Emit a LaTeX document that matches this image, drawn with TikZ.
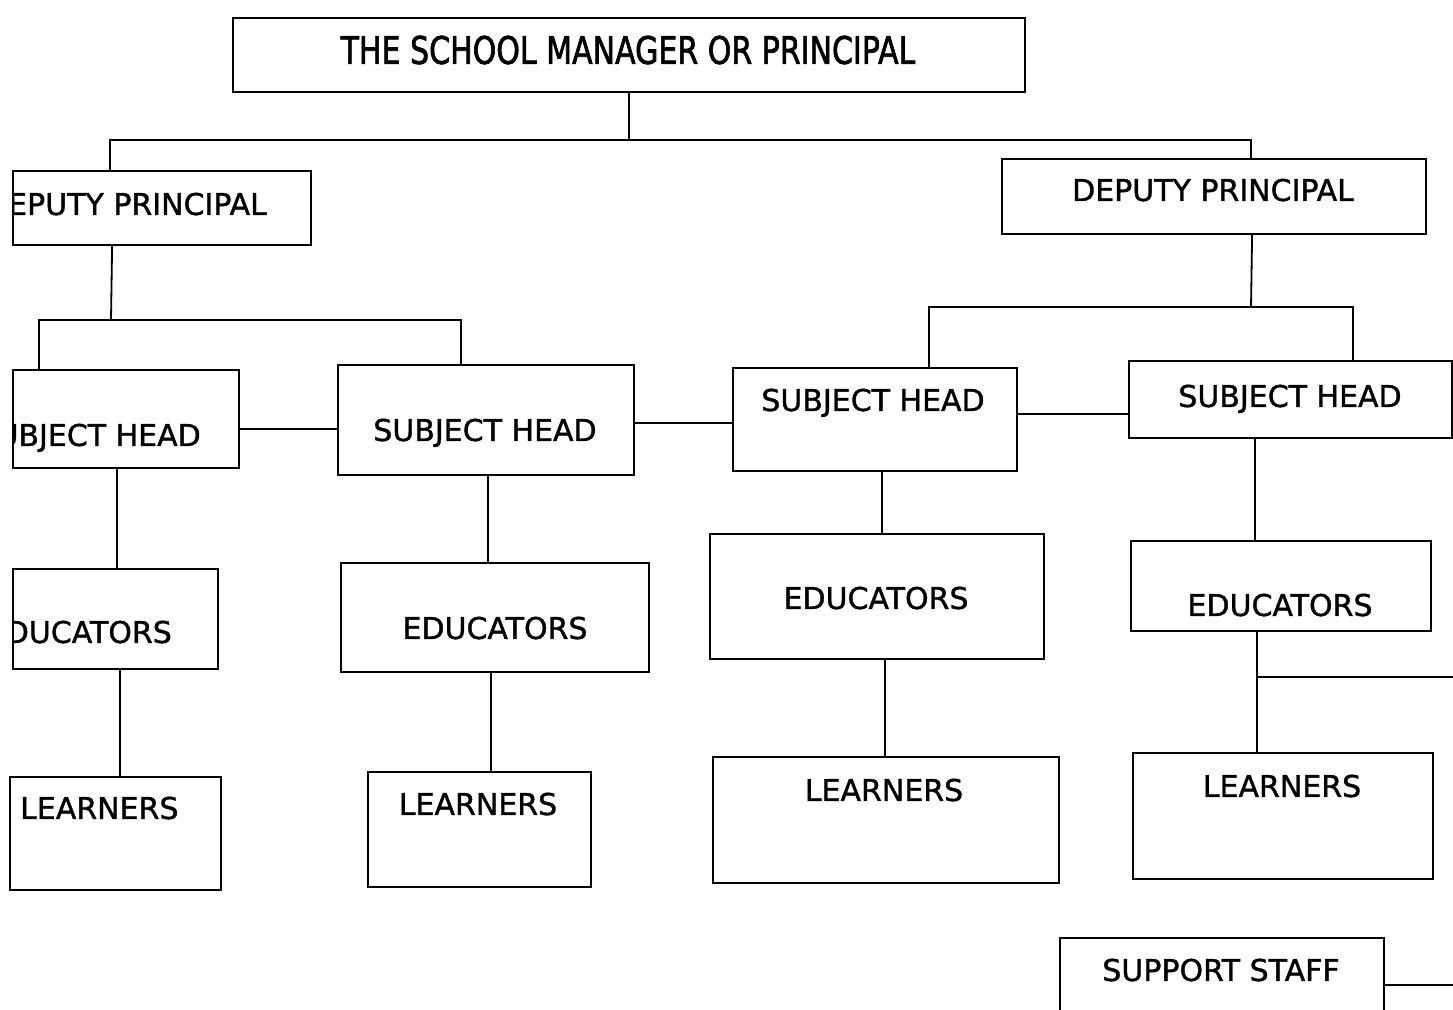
\documentclass[tikz,border=0pt]{standalone}
\usepackage{graphicx}
\usepackage{fontspec}
\setmainfont{DejaVu Sans}
\newfontfamily\chartfont{DejaVu Sans}[FakeBold=1.2]
\newfontfamily\titlefont{DejaVu Sans}[FakeBold=2]
\usetikzlibrary{calc}
\begin{document}
\begin{tikzpicture}[x=1pt,y=-1pt,
  box/.style={draw=black, line width=2.2pt, rectangle, inner sep=0pt, anchor=north west},
  lbl/.style={inner sep=0pt, font=\chartfont\fontsize{30}{36}\selectfont, text height=21.9pt, text depth=0pt},
  link/.style={draw=black, line width=1.8pt}]
\useasboundingbox (0,0) rectangle (1453,1009);
\clip (0,0) rectangle (1453,1009);
\fill[white] (0,0) rectangle (1453,1009);

% ---- boxes (top-left corner, width, height) ----
\node[box, minimum width=792pt, minimum height=74pt]  (pr)  at (232,17)  {};
\node[box, minimum width=298pt, minimum height=74pt]  (dp1) at (12,170)  {};
\node[box, minimum width=424pt, minimum height=75pt]  (dp2) at (1001,158) {};
\node[box, minimum width=226pt, minimum height=98pt]  (sh1) at (12,369)  {};
\node[box, minimum width=296pt, minimum height=110pt] (sh2) at (337,364) {};
\node[box, minimum width=284pt, minimum height=103pt] (sh3) at (732,367) {};
\node[box, minimum width=323pt, minimum height=77pt]  (sh4) at (1128,360) {};
\node[box, minimum width=205pt, minimum height=100pt] (ed1) at (12,568)  {};
\node[box, minimum width=308pt, minimum height=109pt] (ed2) at (340,562) {};
\node[box, minimum width=334pt, minimum height=125pt] (ed3) at (709,533) {};
\node[box, minimum width=300pt, minimum height=90pt]  (ed4) at (1130,540) {};
\node[box, minimum width=211pt, minimum height=113pt] (ln1) at (9,776)   {};
\node[box, minimum width=223pt, minimum height=115pt] (ln2) at (367,771) {};
\node[box, minimum width=346pt, minimum height=126pt] (ln3) at (712,756) {};
\node[box, minimum width=300pt, minimum height=126pt] (ln4) at (1132,752) {};
\node[box, minimum width=324pt, minimum height=103pt] (ss)  at (1059,937) {};

% ---- labels ----
\begin{scope}
\clip (13,0) rectangle (1453,1009);
\node[lbl, font=\titlefont\fontsize{38}{44}\selectfont, text height=27.7pt] (prt) at (628,50)
  {\scalebox{0.79}[1]{THE SCHOOL MANAGER OR PRINCIPAL}};
\node[lbl, anchor=east] (dp1t) at (267,204) {DEPUTY PRINCIPAL};
\node[lbl] (dp2t) at (1213,190) {DEPUTY PRINCIPAL};
\node[lbl, anchor=east] (sh1t) at (201,435) {SUBJECT HEAD};
\node[lbl] (sh2t) at (485,430) {SUBJECT HEAD};
\node[lbl] (sh3t) at (873,400) {SUBJECT HEAD};
\node[lbl] (sh4t) at (1290,396) {SUBJECT HEAD};
\node[lbl, anchor=east] (ed1t) at (172,632) {EDUCATORS};
\node[lbl] (ed2t) at (495,628) {EDUCATORS};
\node[lbl] (ed3t) at (876,598) {EDUCATORS};
\node[lbl] (ed4t) at (1280,605) {EDUCATORS};
\node[lbl, anchor=west] (ln1t) at (20,808) {LEARNERS};
\node[lbl] (ln2t) at (478,804) {LEARNERS};
\node[lbl] (ln3t) at (884,790) {LEARNERS};
\node[lbl] (ln4t) at (1282,786) {LEARNERS};
\node[lbl] (sst) at (1221,970) {SUPPORT STAFF};
\end{scope}

% ---- connectors ----
\coordinate (bus1) at (629,140);
\coordinate (bus2) at (111,320);
\coordinate (bus3) at (1251,307);
\coordinate (offr) at (1460,677);
\coordinate (offss) at (1460,985);

\draw[link] (pr.south) -- (bus1);
\draw[link] ([xshift=-52pt]dp1.north) |- (bus1);
\draw[link] ([xshift=37pt]dp2.north) |- (bus1);

\draw[link] ([xshift=-50pt]dp1.south) -- (bus2);
\draw[link] ([xshift=-87pt]sh1.north) |- (bus2);
\draw[link] ([xshift=-25pt]sh2.north) |- (bus2);

\draw[link] ([xshift=38pt]dp2.south) -- (bus3);
\draw[link] ([xshift=54pt]sh3.north) |- (bus3);
\draw[link] ([xshift=62.5pt]sh4.north) |- (bus3);

\draw[link] ([yshift=-10pt]sh1.east) -- ([yshift=-10pt]sh1.east -| sh2.west);
\draw[link] ([yshift=-3pt]sh2.east) -- ([yshift=-3pt]sh2.east -| sh3.west);
\draw[link] ([yshift=5.5pt]sh3.east) -- ([yshift=5.5pt]sh3.east -| sh4.west);

\draw[link] ([xshift=-9pt]sh1.south) -- ([xshift=-9pt]sh1.south |- ed1.north);
\draw[link] ([xshift=2pt]sh2.south) -- ([xshift=2pt]sh2.south |- ed2.north);
\draw[link] ([xshift=7pt]sh3.south) -- ([xshift=7pt]sh3.south |- ed3.north);
\draw[link] ([xshift=-35.5pt]sh4.south) -- ([xshift=-35.5pt]sh4.south |- ed4.north);

\draw[link] ([xshift=4.5pt]ed1.south) -- ([xshift=4.5pt]ed1.south |- ln1.north);
\draw[link] ([xshift=-4pt]ed2.south) -- ([xshift=-4pt]ed2.south |- ln2.north);
\draw[link] ([xshift=8pt]ed3.south) -- ([xshift=8pt]ed3.south |- ln3.north);
\draw[link] ([xshift=-24pt]ed4.south) -- ([xshift=-24pt]ed4.south |- ln4.north);
\draw[link] ([xshift=-24pt]ed4.south |- offr) -- (offr);

\draw[link] (ss.east |- offss) -- (offss);
\end{tikzpicture}
\end{document}
